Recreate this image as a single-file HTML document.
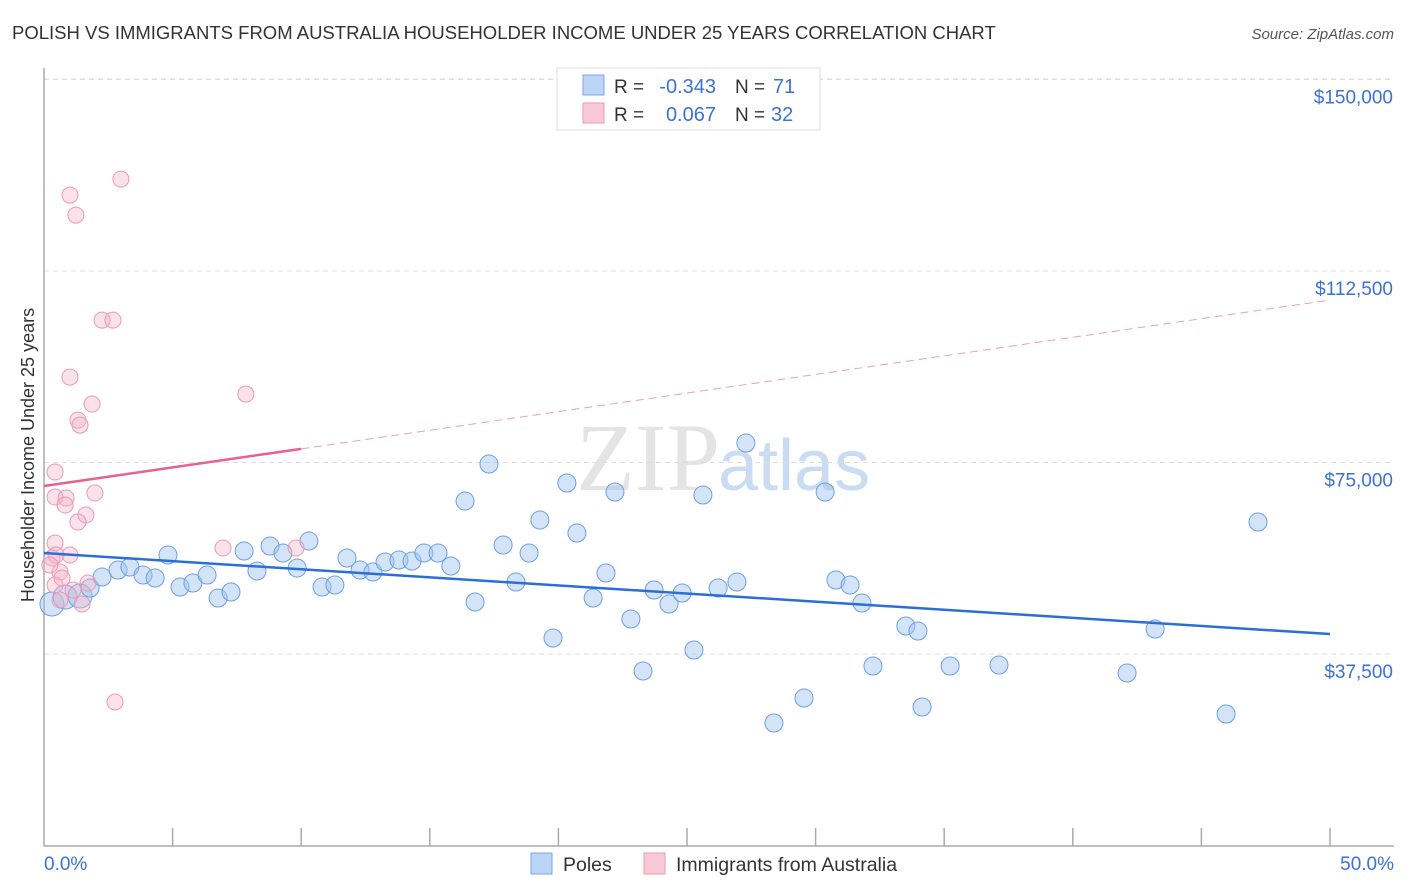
<!DOCTYPE html>
<html><head><meta charset="utf-8"><style>
body{margin:0;background:#fff;font-family:"Liberation Sans",sans-serif}
svg{display:block}
</style></head><body>
<svg id="chart" width="1406" height="892">
<text x="12" y="39" font-size="18.5" fill="#333">POLISH VS IMMIGRANTS FROM AUSTRALIA HOUSEHOLDER INCOME UNDER 25 YEARS CORRELATION CHART</text>
<text x="1394" y="39" font-size="15" fill="#555" font-style="italic" text-anchor="end">Source: ZipAtlas.com</text>
<text x="720" y="490" font-size="96" fill="#e4e4e4" text-anchor="end" font-family="Liberation Serif">ZIP</text>
<text x="718" y="490" font-size="72" fill="#c9dcf2">atlas</text>
<g id="grid"></g><g id="axes"></g><g id="marks"></g>
<text transform="translate(34,455) rotate(-90)" font-size="18" fill="#333" text-anchor="middle">Householder Income Under 25 years</text>
<g>
<rect x="557" y="68" width="263" height="62" fill="#fff" stroke="#ddd"/>
<rect x="583" y="75" width="21" height="20" fill="#bcd4f5" stroke="#7aa6e6"/>
<rect x="583" y="103" width="21" height="20" fill="#f8c8d6" stroke="#ec9ab3"/>
<text x="614" y="93" font-size="19" fill="#333">R =</text>
<text x="716" y="93" font-size="20" fill="#3a72d6" text-anchor="end">-0.343</text>
<text x="735" y="93" font-size="19" fill="#333">N =</text>
<text x="773" y="93" font-size="20" fill="#3a72d6">71</text>
<text x="614" y="121" font-size="19" fill="#333">R =</text>
<text x="716" y="121" font-size="20" fill="#3a72d6" text-anchor="end">0.067</text>
<text x="735" y="121" font-size="19" fill="#333">N =</text>
<text x="771" y="121" font-size="20" fill="#3a72d6">32</text>
</g>
<g>
<rect x="531" y="853" width="21" height="21" fill="#bcd4f5" stroke="#7aa6e6"/>
<text x="563" y="871" font-size="19.5" fill="#333">Poles</text>
<rect x="644" y="853" width="21" height="21" fill="#f8c8d6" stroke="#ec9ab3"/>
<text x="676" y="871" font-size="19.5" fill="#333">Immigrants from Australia</text>
</g>
</svg>
<script>
const yTicks=[37500,75000,112500,150000];
const yTickLabels=["$37,500","$75,000","$112,500","$150,000"];
const xTickLabels=["0.0%","50.0%"];
const polesX=[0.31,0.82,1.40,1.79,2.26,2.88,3.34,3.85,4.32,4.82,5.29,5.79,6.34,6.77,7.27,7.78,8.28,8.79,9.29,9.84,10.30,10.81,11.31,11.78,12.29,12.79,13.26,13.80,14.31,14.77,15.32,15.82,16.37,16.76,17.30,17.85,18.35,18.86,19.28,19.79,20.33,20.72,21.35,21.85,22.20,22.82,23.29,23.72,24.30,24.81,25.27,25.62,26.21,26.94,27.29,28.38,29.55,30.37,30.79,31.34,31.80,32.23,33.51,33.98,34.14,35.23,37.13,42.11,43.20,45.96,47.20];
const polesY=[47290,48660,48850,50420,52570,53940,54530,52960,52380,56880,50610,51400,52960,48460,49640,57660,53750,58640,57270,54330,59620,50610,51010,56290,53940,53550,55510,55900,55710,57270,57270,54730,67450,47680,74700,58840,51590,57270,63730,40630,70980,61190,48460,53360,69220,44350,34170,50030,47290,49440,38280,68630,50420,51590,78810,23990,28880,69220,51990,51010,47480,35150,42980,42000,27120,35150,35340,33780,42390,25750,63340];
const ausX=[0.43,0.31,0.62,0.43,0.62,1.01,1.24,2.26,2.68,1.01,1.87,1.32,1.40,0.43,0.43,0.86,0.82,1.98,1.63,1.32,0.47,1.01,0.70,1.71,1.48,2.76,2.99,7.85,6.96,9.80,0.23,1.13];
const ausY=[59230,56290,53550,51010,48070,127370,123450,102890,102890,91730,86450,83310,82330,73130,68240,68040,66670,69020,64710,63340,56880,56880,52380,51400,47290,28100,130500,88400,58250,58250,54920,50030];
const polesTrend=[57270,41410];
const ausTrend=[70390,106810];
const ausSolidEnd=10;

const X0=44,X1=1330,Y0=845.5,YPER=191.5/37500;
const sx=v=>X0+(X1-X0)*v/50;
const sy=v=>Y0-v*YPER;
const NS="http://www.w3.org/2000/svg";
function mk(tag,attrs,parent){const e=document.createElementNS(NS,tag);for(const k in attrs)e.setAttribute(k,attrs[k]);document.getElementById(parent).appendChild(e);return e;}

yTicks.forEach((t,i)=>{
  const l=mk('line',{x1:X0,x2:1394,y1:sy(t),y2:sy(t),stroke:'#ddd','stroke-dasharray':'5,4'},'grid');
  
  
  const tx=mk('text',{x:1393,y:sy(t)+24,'font-size':19,fill:'#3a72d6','text-anchor':'end'},'grid');
  tx.textContent=yTickLabels[i];
  
  
});
{const l=mk('line',{x1:X0,x2:1394,y1:79,y2:79,stroke:'#ddd','stroke-dasharray':'5,4'},'grid');

}
const ya=mk('line',{x1:X0,x2:X0,y1:68,y2:846,stroke:'#aaa','stroke-width':1.5},'axes');


const xa=mk('line',{x1:X0,x2:1394,y1:846,y2:846,stroke:'#aaa','stroke-width':1.5},'axes');


for(let i=1;i<=10;i++){
  const t=mk('line',{x1:sx(i*5),x2:sx(i*5),y1:828,y2:846,stroke:'#aaa','stroke-width':1.5},'axes');
  
  
}
[[0,'start',44],[50,'end',1394]].forEach((d,i)=>{
  const tx=mk('text',{x:d[2],y:870,'font-size':19,fill:'#3a72d6','text-anchor':d[1]},'axes');
  tx.textContent=xTickLabels[i];
  
  
});

polesX.forEach((x,i)=>{
  const c=mk('circle',{cx:sx(x),cy:sy(polesY[i]),r:i<3?12:9,fill:'rgba(160,196,240,0.45)',stroke:'#6d9fe0','stroke-width':1},'marks');
  
  
});
ausX.forEach((x,i)=>{
  const c=mk('circle',{cx:sx(x),cy:sy(ausY[i]),r:8,fill:'rgba(246,180,200,0.4)',stroke:'#eb9ab4','stroke-width':1},'marks');
  
  
});
const pl=mk('line',{x1:sx(0),y1:sy(polesTrend[0]),x2:sx(50),y2:sy(polesTrend[1]),stroke:'#2a6fd6','stroke-width':2.5},'marks');


const am=ausTrend[0]+(ausTrend[1]-ausTrend[0])*ausSolidEnd/50;
const a1=mk('line',{x1:sx(0),y1:sy(ausTrend[0]),x2:sx(ausSolidEnd),y2:sy(am),stroke:'#e8608c','stroke-width':2.5},'marks');


const a2=mk('line',{x1:sx(ausSolidEnd),y1:sy(am),x2:sx(50),y2:sy(ausTrend[1]),stroke:'#e8a0b8','stroke-width':1,'stroke-dasharray':'8,5'},'marks');


</script>
</body></html>
